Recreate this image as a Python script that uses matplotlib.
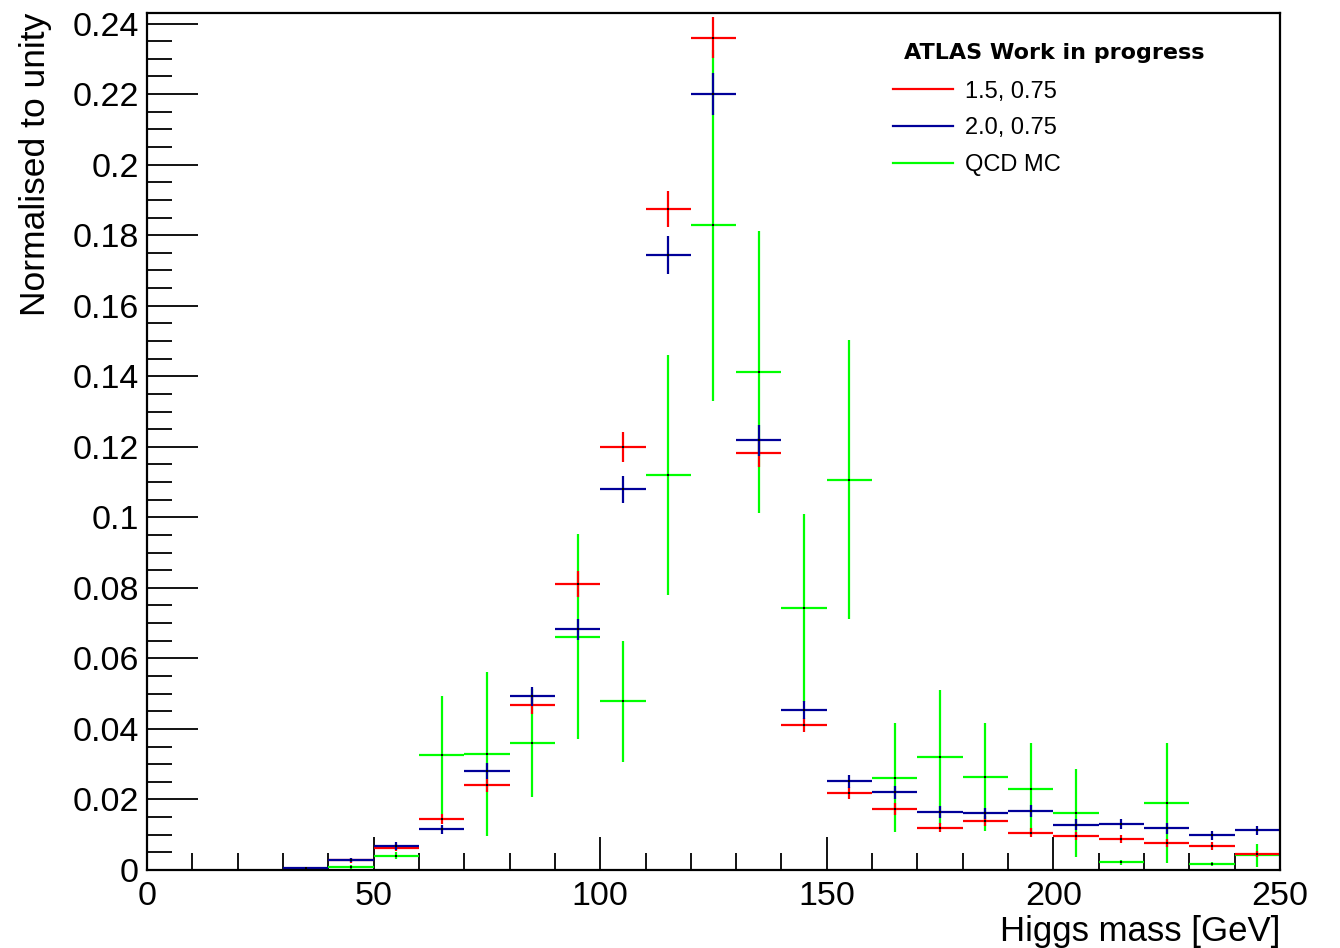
import numpy as np
import matplotlib
matplotlib.use("Agg")
import matplotlib.pyplot as plt
from matplotlib.lines import Line2D

plt.rcParams['font.family'] = ['Liberation Sans', 'DejaVu Sans']

# bin centres [GeV], bin width 10
mass = [35, 45, 55, 65, 75, 85, 95, 105, 115, 125, 135, 145, 155,
        165, 175, 185, 195, 205, 215, 225, 235, 245]

# 1.5, 0.75
red_val = [0.0003, 0.0027, 0.0063, 0.0145, 0.0240, 0.0467, 0.0811, 0.1199, 0.1874, 0.2360, 0.1183,
           0.0410, 0.0218, 0.0173, 0.0120, 0.0139, 0.0106, 0.0097, 0.0088, 0.0077, 0.0069, 0.0046]
red_err = [0.0002, 0.0006, 0.0010, 0.0014, 0.0019, 0.0026, 0.0036, 0.0042, 0.0052, 0.0058, 0.0041,
           0.0020, 0.0016, 0.0016, 0.0012, 0.0013, 0.0012, 0.0012, 0.0012, 0.0011, 0.0011, 0.0009]

# 2.0, 0.75
blue_val = [0.0006, 0.0029, 0.0068, 0.0115, 0.0280, 0.0493, 0.0683, 0.1079, 0.1743, 0.2200, 0.1218,
            0.0453, 0.0251, 0.0220, 0.0164, 0.0161, 0.0166, 0.0128, 0.0131, 0.0118, 0.0098, 0.0112]
blue_err = [0.0002, 0.0006, 0.0011, 0.0012, 0.0023, 0.0027, 0.0030, 0.0038, 0.0054, 0.0060, 0.0043,
            0.0026, 0.0019, 0.0018, 0.0017, 0.0016, 0.0017, 0.0016, 0.0014, 0.0015, 0.0013, 0.0014]

# QCD MC
qcd_val = [0.0, 0.0008, 0.0041, 0.0325, 0.0329, 0.0360, 0.0662, 0.0478, 0.1119, 0.1828, 0.1412,
           0.0743, 0.1107, 0.0262, 0.0321, 0.0263, 0.0229, 0.0161, 0.0022, 0.0189, 0.0017, 0.0042]
qcd_err = [0.0, 0.0005, 0.0010, 0.0167, 0.0233, 0.0153, 0.0290, 0.0171, 0.0340, 0.0498, 0.0401,
           0.0266, 0.0396, 0.0155, 0.0190, 0.0153, 0.0131, 0.0124, 0.0007, 0.0170, 0.0006, 0.0033]

fig = plt.figure(figsize=(13.4, 9.48), dpi=100)
ax = fig.add_axes([0.1097, 0.0823, 0.8455, 0.904])

# drawing order: QCD underneath, then the two signal samples
series = [
    (qcd_val, qcd_err, '#00ff00'),
    (red_val, red_err, '#ff0000'),
    (blue_val, blue_err, '#000099'),
]
for val, err, col in series:
    x = np.array(mass, dtype=float)
    v = np.array(val)
    keep = v > 0
    ax.errorbar(x[keep], v[keep], xerr=5, yerr=np.array(err)[keep], fmt='none',
                ecolor=col, elinewidth=1.6, capsize=0)
    ax.plot(x[keep], v[keep], 's', color='black', ms=1.6, mew=0)

ax.set_xlim(0, 250)
ax.set_ylim(0, 0.243)
ax.set_xticks(np.arange(0, 251, 50))
ax.set_xticks(np.arange(0, 251, 10), minor=True)
ax.set_yticks(np.arange(0, 0.241, 0.02))
ax.set_yticks(np.arange(0, 0.243, 0.005), minor=True)
ax.set_yticklabels(['0', '0.02', '0.04', '0.06', '0.08', '0.1', '0.12', '0.14',
                    '0.16', '0.18', '0.2', '0.22', '0.24'])
ax.set_xticklabels(['0', '50', '100', '150', '200', '250'])

ax.tick_params(axis='both', which='both', direction='in', top=False, right=False,
               labelsize=24.5, width=1.3, color='black')
ax.tick_params(axis='x', which='major', length=24, pad=8)
ax.tick_params(axis='x', which='minor', length=12)
ax.tick_params(axis='y', which='major', length=37, pad=6)
ax.tick_params(axis='y', which='minor', length=18)
for s in ax.spines.values():
    s.set_linewidth(1.6)

ax.set_xlabel('Higgs mass [GeV]', fontsize=25, ha='right', va='center')
ax.xaxis.set_label_coords(1.0, -0.072)
ax.set_ylabel('Normalised to unity', fontsize=25.5, ha='right', va='center')
ax.yaxis.set_label_coords(-0.098, 1.0)

ax.text(0.668, 0.9534, 'ATLAS Work in progress', transform=ax.transAxes,
        family='DejaVu Sans', weight='bold', fontsize=16, va='center', ha='left')

leg_lines = [Line2D([], [], color='#ff0000', lw=1.6),
             Line2D([], [], color='#000099', lw=1.6),
             Line2D([], [], color='#00ff00', lw=1.6)]
ax.legend(leg_lines, ['1.5, 0.75', '2.0, 0.75', 'QCD MC'],
          loc='upper left', bbox_to_anchor=(0.6584, 0.921), frameon=False,
          borderpad=0, borderaxespad=0, fontsize=17, handlelength=2.55,
          handletextpad=0.5, labelspacing=0.62)

fig.savefig('out.png', dpi=100)
